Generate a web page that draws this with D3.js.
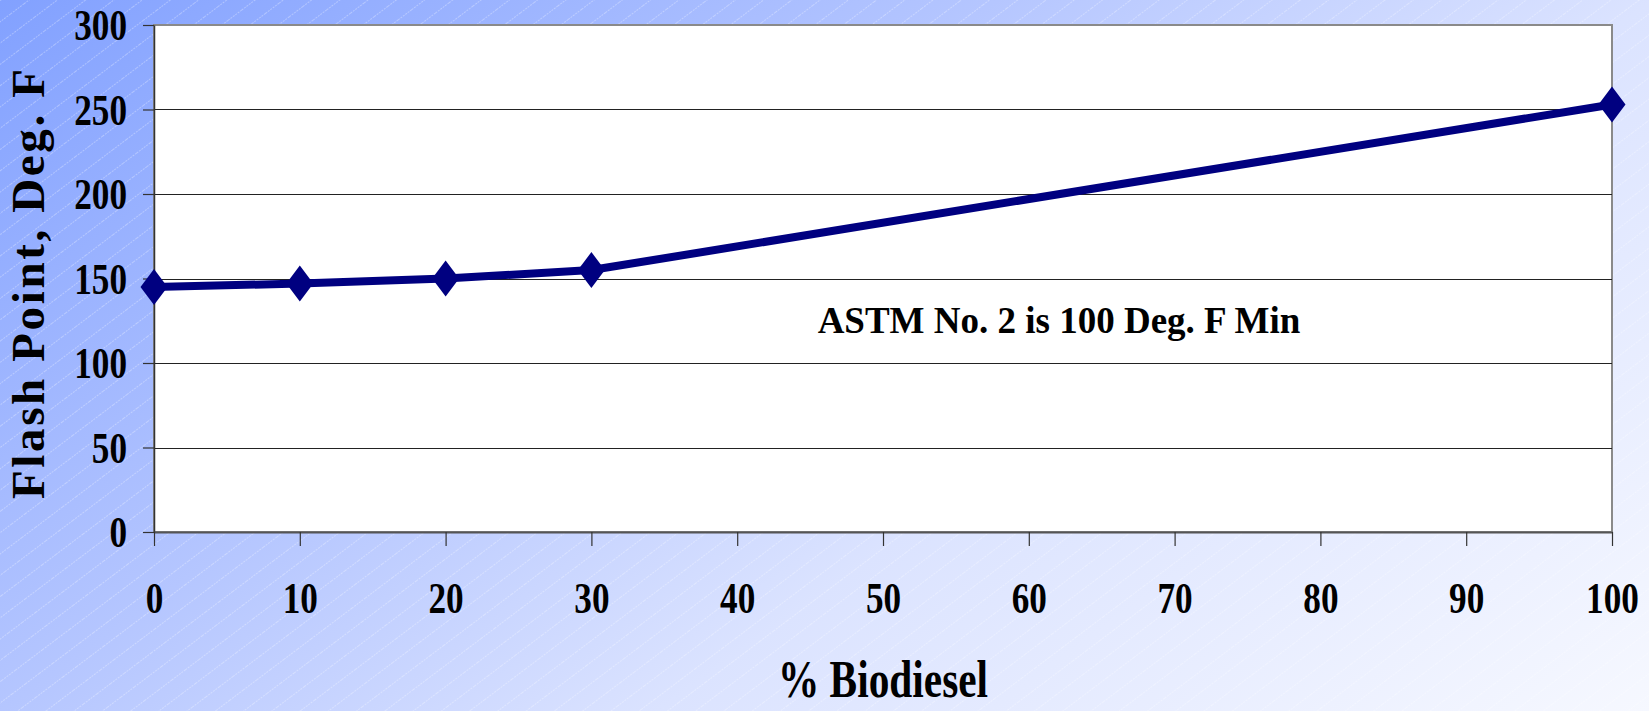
<!DOCTYPE html>
<html>
<head>
<meta charset="utf-8">
<script src="https://cdn.jsdelivr.net/npm/d3@7/dist/d3.min.js"></script>
<style>
  html, body { margin: 0; padding: 0; overflow: hidden; }
  svg { display: block; }
</style>
</head>
<body>
<script>
// ---- data ----
const biodieselPct = [0, 10, 20, 30, 100];
const flashPointF = [145, 147, 150, 155, 253];
const xTickValues = [0, 10, 20, 30, 40, 50, 60, 70, 80, 90, 100];
const yTickValues = [0, 50, 100, 150, 200, 250, 300];
const xTitle = "% Biodiesel";
const yTitle = "Flash Point, Deg. F";
const noteText = "ASTM No. 2 is 100 Deg. F Min";

// ---- layout ----
const W = 1649, H = 711;
const plot = { left: 154, right: 1612, top: 25, bottom: 532 };
const font = "'Liberation Serif','Times New Roman',serif";
const navy = "#000080";
const sx = 0.8; // horizontal compression of numeric labels

const svg = d3.select("body").append("svg").attr("width", W).attr("height", H);
const defs = svg.append("defs");

const grad = defs.append("linearGradient").attr("id", "bg")
  .attr("gradientUnits", "userSpaceOnUse")
  .attr("x1", 0).attr("y1", 0).attr("x2", 893).attr("y2", 1251);
[[0, "#82A1FF"], [0.377, "#B5C6FF"], [0.625, "#DBE3FF"], [1, "#F6F8FF"]]
  .forEach(([o, c]) => grad.append("stop").attr("offset", o).attr("stop-color", c));

const pat = defs.append("pattern").attr("id", "hatch")
  .attr("patternUnits", "userSpaceOnUse").attr("width", 17).attr("height", 17)
  .attr("patternTransform", "rotate(-37)");
pat.append("line").attr("x1", 0).attr("y1", 0.5).attr("x2", 17).attr("y2", 0.5)
  .attr("stroke", "#ffffff").attr("stroke-opacity", 0.3).attr("stroke-width", 1)
  .attr("stroke-dasharray", "2,1");

svg.append("rect").attr("width", W).attr("height", H).attr("fill", "url(#bg)");
svg.append("rect").attr("width", W).attr("height", H).attr("fill", "url(#hatch)");

const x = d3.scaleLinear().domain([0, 100]).range([plot.left, plot.right]);
const y = d3.scaleLinear().domain([0, 300]).range([plot.bottom, plot.top]);

// plot area
svg.append("rect").attr("x", plot.left).attr("y", plot.top)
  .attr("width", plot.right - plot.left).attr("height", plot.bottom - plot.top)
  .attr("fill", "#ffffff").attr("stroke", "#8a8a8a").attr("stroke-width", 2);

// gridlines
svg.append("g").selectAll("line").data(yTickValues.filter(v => v > 0 && v < 300)).join("line")
  .attr("x1", plot.left).attr("x2", plot.right)
  .attr("y1", d => Math.round(y(d)) + 0.5).attr("y2", d => Math.round(y(d)) + 0.5)
  .attr("stroke", "#222").attr("stroke-width", 1);

// y axis
const yAxis = svg.append("g").attr("transform", `translate(${plot.left},0)`)
  .call(d3.axisLeft(y).tickValues(yTickValues).tickSize(11).tickSizeOuter(0));
yAxis.select(".domain").attr("stroke", "#333").attr("stroke-width", 1.5);
yAxis.selectAll(".tick line").attr("stroke", "#333").attr("stroke-width", 1.2);
yAxis.selectAll(".tick text")
  .attr("font-family", font).attr("font-weight", "bold").attr("font-size", 44)
  .attr("fill", "#000").attr("text-anchor", "end")
  .attr("x", -27 / sx).attr("dy", "0.34em")
  .attr("transform", `scale(${sx},1)`);

// x axis
const xAxis = svg.append("g").attr("transform", `translate(0,${plot.bottom})`)
  .call(d3.axisBottom(x).tickValues(xTickValues).tickSize(14).tickSizeOuter(0));
xAxis.select(".domain").attr("stroke", "#555").attr("stroke-width", 2);
xAxis.selectAll(".tick line").attr("stroke", "#333").attr("stroke-width", 1.2);
xAxis.selectAll(".tick text")
  .attr("font-family", font).attr("font-weight", "bold").attr("font-size", 44)
  .attr("fill", "#000").attr("text-anchor", "middle")
  .attr("y", 81).attr("dy", 0)
  .attr("transform", `scale(${sx},1)`);

// series line
const pts = biodieselPct.map((p, i) => [p, flashPointF[i]]);
svg.append("path").datum(pts)
  .attr("d", d3.line().x(d => x(d[0])).y(d => y(d[1])))
  .attr("fill", "none").attr("stroke", navy).attr("stroke-width", 8)
  .attr("stroke-linejoin", "round");

// diamond markers
svg.append("g").selectAll("path").data(pts).join("path")
  .attr("transform", d => `translate(${x(d[0])},${y(d[1])})`)
  .attr("d", "M0,-18L13.5,0L0,18L-13.5,0Z")
  .attr("fill", navy);

// annotation
svg.append("text").attr("x", 1059).attr("y", 333)
  .attr("text-anchor", "middle").attr("font-family", font).attr("font-weight", "bold")
  .attr("font-size", 37)
  .text(noteText);

// axis titles
svg.append("text")
  .attr("transform", `translate(${(plot.left + plot.right) / 2},697) scale(0.78,1)`)
  .attr("text-anchor", "middle").attr("font-family", font).attr("font-weight", "bold")
  .attr("font-size", 53).text(xTitle);

svg.append("text")
  .attr("transform", "translate(44,284) rotate(-90)")
  .attr("text-anchor", "middle").attr("font-family", font).attr("font-weight", "bold")
  .attr("font-size", 47).attr("textLength", 430).attr("lengthAdjust", "spacing")
  .text(yTitle);
</script>
</body>
</html>
